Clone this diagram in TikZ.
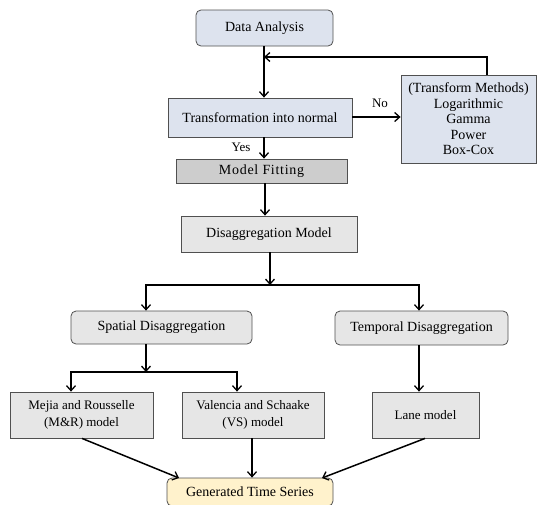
\documentclass[tikz,border=0pt]{standalone}
\usepackage{fontspec}
\setmainfont{Liberation Serif}
\usetikzlibrary{arrows.meta}
\definecolor{bluebox}{HTML}{DDE3EE}
\definecolor{greybox}{HTML}{E6E6E6}
\definecolor{darkbox}{HTML}{CDCDCD}
\definecolor{yellowbox}{HTML}{FFF2CC}
\definecolor{edge}{HTML}{505050}
\tikzset{
  box/.style={draw=edge, line width=0.8pt, inner sep=0pt, align=center, font=\fontsize{14}{15.5}\selectfont},
  rbox/.style={box, rounded corners=5pt},
  arr/.style={line width=1.5pt, -{Straight Barb[length=5pt,width=9pt,line width=1.3pt]}},
  lbl/.style={font=\fontsize{13}{15}\selectfont, inner sep=1pt}
}
\begin{document}
\begin{tikzpicture}[x=1pt,y=-1pt]
\useasboundingbox (0,0) rectangle (537,504);
% boxes
\node[rbox, fill=bluebox, minimum width=137pt, minimum height=36pt] (da) at (264.5,28) {Data Analysis};
\node[box, fill=bluebox, minimum width=184pt, minimum height=39pt] (tn) at (260,117.5) {Transformation into normal};
\node[box, fill=bluebox, minimum width=135pt, minimum height=88pt] (tm) at (468.5,119) {(Transform Methods)\\Logarithmic\\Gamma\\Power\\Box-Cox};
\node[box, fill=darkbox, minimum width=171pt, minimum height=24pt] (mf) at (261.5,171) {\addfontfeature{LetterSpace=5}Model Fitting};
\node[box, fill=greybox, minimum width=176pt, minimum height=36pt] (dm) at (269,234) {Disaggregation Model};
\node[rbox, fill=greybox, minimum width=181pt, minimum height=33pt] (sd) at (161.5,327.5) {Spatial Disaggregation};
\node[rbox, fill=greybox, minimum width=173pt, minimum height=34pt] (td) at (421.5,328) {Temporal Disaggregation};
\node[box, fill=greybox, minimum width=143pt, minimum height=46pt, font=\fontsize{13}{17}\selectfont] (mr) at (81.5,415) {Mejia and Rousselle\\(M\&R) model};
\node[box, fill=greybox, minimum width=142pt, minimum height=46pt, font=\fontsize{13}{17}\selectfont] (vs) at (253,415) {Valencia and Schaake\\(VS) model};
\node[box, fill=greybox, minimum width=107pt, minimum height=46pt, font=\fontsize{13}{17}\selectfont] (ln) at (425.5,415) {Lane model};
\node[rbox, fill=yellowbox, minimum width=166pt, minimum height=28pt] (gt) at (250,492) {Generated Time Series};
% coordinates
\coordinate (lp) at (264,57);
\coordinate (j1) at (270,285);
\coordinate (j2) at (146,372);
\coordinate (nr) at (0,117);
% connectors
\draw[arr] (da.south -| 264,0) -- (tn.north -| 264,0);
\draw[arr] (tm.north -| 487,0) |- (lp);
\draw[arr] (tn.east |- nr) -- (tm.west |- nr);
\node[lbl] (no) at (380,103) {No};
\draw[arr] (tn.south -| 264,0) -- (mf.north -| 264,0);
\node[lbl] (yes) at (241,147) {Yes};
\draw[arr] (mf.south -| 265,0) -- (dm.north -| 265,0);
\draw[arr] (dm.south -| j1) -- (j1);
\draw[arr] (j1) -| (sd.north -| 146,0);
\draw[arr] (j1) -| (td.north -| 419,0);
\draw[arr] (sd.south -| j2) -- (j2);
\draw[arr] (j2) -| (mr.north -| 71,0);
\draw[arr] (j2) -| (vs.north -| 237,0);
\draw[arr] (td.south -| 419,0) -- (ln.north -| 419,0);
\draw[arr] (mr.south -| 82,0) -- (179,478);
\draw[arr] (vs.south -| 252,0) -- (gt.north -| 252,0);
\draw[arr] (ln.south -| 425,0) -- (322,478);
\end{tikzpicture}
\end{document}
